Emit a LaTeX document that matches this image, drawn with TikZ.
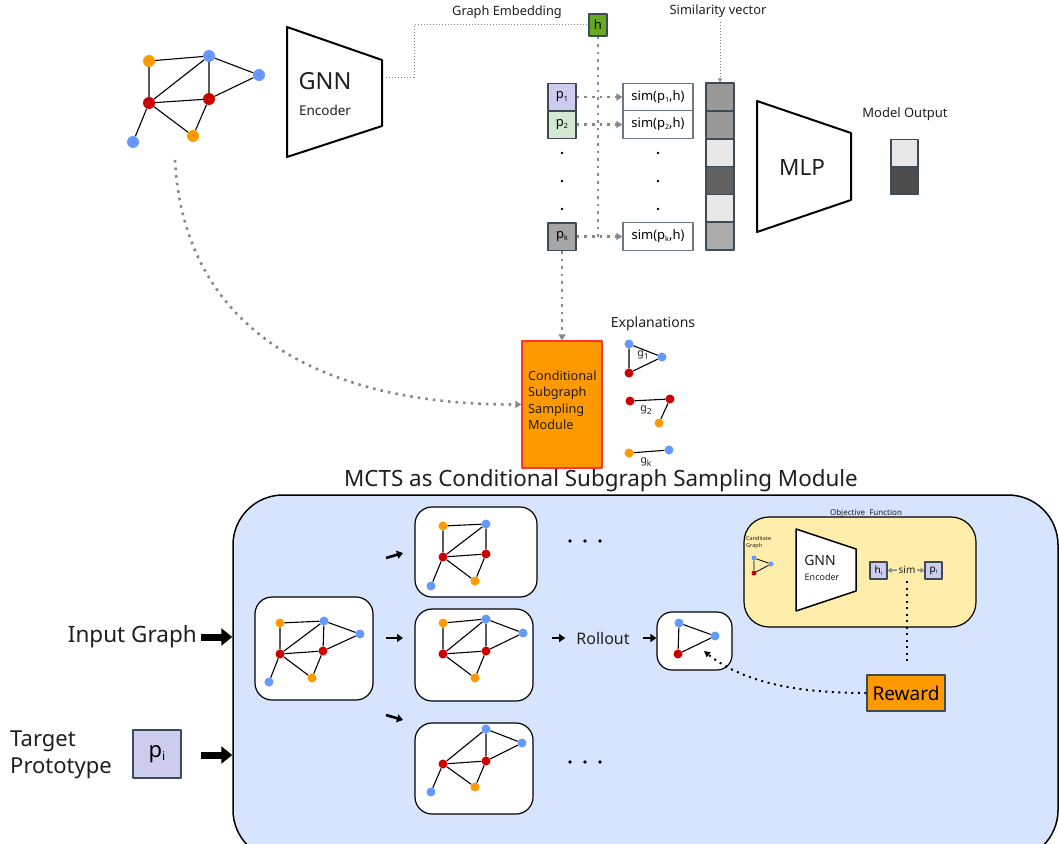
\documentclass[tikz,border=0pt]{standalone}
\usepackage{fontspec}
\setmainfont{Noto Sans}
\usetikzlibrary{arrows.meta,calc}
\definecolor{nblue}{HTML}{6699FF}
\definecolor{norange}{HTML}{FF9900}
\definecolor{nred}{HTML}{CC0000}
\definecolor{bgblue}{HTML}{D6E4FD}
\definecolor{objyellow}{HTML}{FFEDAB}
\definecolor{lav}{HTML}{CCCCEE}
\definecolor{mint}{HTML}{D5E8D4}
\definecolor{hgreen}{HTML}{66AA22}
\definecolor{bord}{HTML}{3D4B57}
\definecolor{dgray}{HTML}{888888}
\newcommand{\mysub}[1]{\raisebox{-0.3ex}{\scalebox{0.55}{#1}}}
\newcommand{\gsub}[1]{\raisebox{-0.55ex}{\scalebox{0.8}{#1}}}
\newcommand{\myfs}[1]{\fontsize{#1}{#1}\selectfont}
\tikzset{
 gn/.style={circle, inner sep=0pt, minimum size=#1, font=\fontsize{3.5}{4}\selectfont, text=black!55},
 bnode/.style={gn=#1, fill=nblue}, bnode/.default=12pt,
 rnode/.style={gn=#1, fill=nred}, rnode/.default=12pt,
 onode/.style={gn=#1, fill=norange}, onode/.default=12pt,
 ge/.style={line width=1.1pt},
 txt/.style={inner sep=0pt, text=black!88},
 gbox/.style={draw, line width=1.2pt, fill=white, rounded corners=17pt, inner sep=0pt},
 proto/.style={draw=bord, line width=1.5pt, minimum width=28pt, minimum height=27.5pt, inner sep=0pt, font=\myfs{13}},
 simbox/.style={draw=bord!75, line width=1.2pt, fill=white, minimum width=70pt, minimum height=27.5pt, inner sep=0pt, font=\myfs{13}},
 vcell/.style={draw=bord, line width=1.5pt, minimum width=28pt, minimum height=27.8pt, inner sep=0pt},
 gdot/.style={draw=dgray, line width=2.6pt, dash pattern=on 2.6pt off 5pt},
 garrow/.style={gdot, -{Triangle[length=6pt,width=7pt]}},
 bigarrow/.style={line width=7pt, -{Triangle[length=11pt,width=17pt]}},
 sarrow/.style={line width=2.6pt, -{Triangle[length=6pt,width=8pt]}},
 bdot/.style={draw=black, line width=2pt, dash pattern=on 2pt off 4.5pt},
}
\begin{document}
\begin{tikzpicture}[x=1pt,y=-1pt,line join=round]
\useasboundingbox (0,0) rectangle (1059,843);
\clip (0,0) rectangle (1059,843);

% ---------- big MCTS box
\node[draw, line width=1.5pt, fill=bgblue, rounded corners=50pt, minimum width=825pt, minimum height=365pt, inner sep=0pt] (big) at (645.5,677.5) {};
\node[txt, font=\myfs{22.4}] (title) at (601,481) {MCTS as Conditional Subgraph Sampling Module};

% ---------- top input graph
\node[onode] (a1) at (149,61) {1};
\node[bnode] (a2) at (209,56) {2};
\node[bnode] (a5) at (259,75) {5};
\node[rnode] (a3) at (149,103) {3};
\node[rnode] (a4) at (209,99) {4};
\node[onode] (a7) at (193,136) {7};
\node[bnode] (a6) at (133,142) {6};
\draw[ge] (a1)--(a2) (a1)--(a3) (a2)--(a3) (a2)--(a4) (a2)--(a5) (a5)--(a4) (a3)--(a4) (a3)--(a7) (a4)--(a7) (a3)--(a6);

% ---------- GNN encoder
\draw[line width=2pt] (287,27) -- (382,60) -- (382,126) -- (287,157) -- cycle;
\node[txt, font=\myfs{23.5}] (gnn) at (325,81) {GNN};
\node[txt, font=\myfs{13.5}] (enc) at (325,110) {Encoder};
\coordinate (encout) at (386,77);

% ---------- graph embedding
\node[draw=bord, fill=hgreen, line width=1.2pt, minimum width=18pt, minimum height=22pt, inner sep=0pt, font=\myfs{13}] (h) at (598,25) {h};
\node[txt, font=\myfs{12.8}] (gelab) at (507,12) {Graph Embedding};
\draw[dgray, line width=1pt, dotted] (encout) -- (414,77) -- (414,25) -- (h.west);
\coordinate (hv) at (598,240);
\draw[gdot, line width=2.2pt] (h.south) -- (hv);

% ---------- prototypes and similarities
\node[proto, fill=lav] (p1) at (562,97) {p\mysub{1}};
\node[proto, fill=mint] (p2) at (562,124.5) {p\mysub{2}};
\node[proto, fill=black!35] (pk) at (562,236.5) {p\mysub{k}};
\node[simbox] (s1) at (658,97) {sim(p\mysub{1},h)};
\node[simbox] (s2) at (658,124.5) {sim(p\mysub{2},h)};
\node[simbox] (sk) at (658,236.5) {sim(p\mysub{k},h)};
\draw[garrow] (p1.east) -- (s1.west);
\draw[garrow] (p2.east) -- (s2.west);
\draw[garrow] (pk.east) -- (sk.west);
\foreach \y in {153,181,209}{
  \fill (562,\y) circle (1.3pt);
  \fill (658,\y) circle (1.3pt);
}

% ---------- similarity vector
\foreach \i/\c in {0/black!40,1/black!40,2/black!9,3/black!62,4/black!9,5/black!33}{
  \node[vcell, fill=\c] (v\i) at (720,{97+27.83*\i}) {};
}
\node[txt, font=\myfs{12.8}] (svlab) at (718,11) {Similarity vector};
\draw[dgray, line width=1pt, dotted, -{Triangle[length=4pt,width=4pt]}] (v0.north |- svlab.south) ++(0,4) -- (v0.north);

% ---------- MLP
\draw[line width=2pt] (757,101) -- (851,133) -- (851,200) -- (757,232) -- cycle;
\node[txt, font=\myfs{22.5}] (mlp) at (802,167) {MLP};

% ---------- model output
\node[txt, font=\myfs{13}] (molab) at (905,114) {Model Output};
\node[vcell, minimum height=27.5pt, minimum width=27pt, fill=black!9] (o1) at (904.5,153) {};
\node[vcell, minimum height=27.5pt, minimum width=27pt, fill=black!70] (o2) at (904.5,180.5) {};

% ---------- conditional module
\node[draw=red!80, fill=norange, line width=1.2pt, minimum width=80pt, minimum height=127pt, inner sep=0pt] (csm) at (562,404.5) {};
\node[txt, font=\fontsize{12.7}{16.5}\selectfont, align=left, anchor=west] (csmtxt) at (528,400) {Conditional\\Subgraph\\Sampling\\Module};
\draw[garrow] (pk.south) -- (csm.north);
\coordinate (gstart) at (175,160);
\draw[garrow] (gstart) .. controls (183,315) and (300,405) .. (csm.west);

% ---------- explanations
\node[txt, font=\myfs{14}] (exlab) at (653,324) {Explanations};
\node[bnode=9pt] (e1a) at (629,344) {};
\node[bnode=9pt] (e1b) at (662,357) {};
\node[rnode=9pt] (e1c) at (629,373) {};
\draw[ge] (e1a)--(e1b) (e1b)--(e1c) (e1a)--(e1c);
\node[txt, font=\myfs{10.5}] (g1) at (643,355) {g\gsub{1}};
\node[rnode=9pt] (e2a) at (630,401) {};
\node[rnode=9pt] (e2b) at (670,399) {};
\node[onode=9pt] (e2c) at (659,423) {};
\draw[ge] (e2a)--(e2b) (e2b)--(e2c);
\node[txt, font=\myfs{10.5}] (g2) at (646,410) {g\gsub{2}};
\node[onode=9pt] (eka) at (629,453) {};
\node[bnode=9pt] (ekb) at (669,450) {};
\draw[ge] (eka)--(ekb);
\node[txt, font=\myfs{10.5}] (gk) at (646,462) {g\gsub{k}};

% ---------- inputs
\node[txt, font=\myfs{22.5}, anchor=east] (ig) at (197,637) {Input Graph};
\draw[bigarrow] ([xshift=4pt]ig.east) -- (big.west |- ig.east);
\node[txt, font=\fontsize{22}{27}\selectfont, align=left, anchor=west] (tp) at (10,755) {Target\\Prototype};
\node[draw=bord, fill=lav, line width=1.5pt, minimum width=48pt, minimum height=48pt, inner sep=0pt, font=\myfs{22}] (pi) at (157,754) {p\mysub{i}};
\coordinate (tpa) at (201,755);
\draw[bigarrow] (tpa) -- (big.west |- tpa);

% ---------- initial graph box
\node[gbox, minimum width=118pt, minimum height=103pt] (b0) at (314,648.5) {};
\node[onode=9pt] (c1) at (280,623) {};
\node[bnode=9pt] (c2) at (324,621) {};
\node[bnode=9pt] (c5) at (360,634) {};
\node[rnode=9pt] (c3) at (280,654) {};
\node[rnode=9pt] (c4) at (323,651) {};
\node[onode=9pt] (c7) at (312,678) {};
\node[bnode=9pt] (c6) at (269,682) {};
\draw[ge] (c1)--(c2) (c1)--(c3) (c2)--(c3) (c2)--(c4) (c2)--(c5) (c5)--(c4) (c3)--(c4) (c3)--(c7) (c4)--(c7) (c3)--(c6);

% ---------- expansion arrows
\coordinate (x1a) at (386,558); \coordinate (x1b) at (403,553);
\coordinate (x2a) at (386,638); \coordinate (x2b) at (403,638);
\coordinate (x3a) at (386,715); \coordinate (x3b) at (403,720);
\draw[sarrow] (x1a) -- (x1b);
\draw[sarrow] (x2a) -- (x2b);
\draw[sarrow] (x3a) -- (x3b);

% ---------- child 1
\node[gbox, minimum width=122pt, minimum height=90pt] (b1) at (476,552) {};
\node[onode=9pt] (d1) at (443,526) {};
\node[bnode=9pt] (d2) at (486,524) {};
\node[rnode=9pt] (d3) at (443,557) {};
\node[rnode=9pt] (d4) at (486,554) {};
\node[onode=9pt] (d7) at (475,581) {};
\node[bnode=9pt] (d6) at (431,586) {};
\draw[ge] (d1)--(d2) (d1)--(d3) (d2)--(d3) (d2)--(d4) (d3)--(d4) (d3)--(d7) (d4)--(d7) (d3)--(d6);

% ---------- child 2
\node[gbox, minimum width=118pt, minimum height=92pt] (b2) at (474,655) {};
\node[onode=9pt] (f1) at (443,623) {};
\node[bnode=9pt] (f2) at (486,619) {};
\node[bnode=9pt] (f5) at (523,633) {};
\node[rnode=9pt] (f3) at (443,654) {};
\node[rnode=9pt] (f4) at (486,651) {};
\node[onode=9pt] (f7) at (475,678) {};
\draw[ge] (f1)--(f2) (f1)--(f3) (f2)--(f3) (f2)--(f4) (f2)--(f5) (f5)--(f4) (f3)--(f4) (f3)--(f7) (f4)--(f7);

% ---------- child 3
\node[gbox, minimum width=118pt, minimum height=91pt] (b3) at (474,768.5) {};
\node[bnode=9pt] (k2) at (486,729) {};
\node[bnode=9pt] (k5) at (522,743) {};
\node[rnode=9pt] (k3) at (443,764) {};
\node[rnode=9pt] (k4) at (486,761) {};
\node[onode=9pt] (k7) at (475,787) {};
\node[bnode=9pt] (k6) at (431,792) {};
\draw[ge] (k2)--(k3) (k2)--(k4) (k2)--(k5) (k5)--(k4) (k3)--(k4) (k3)--(k7) (k4)--(k7) (k3)--(k6);

% ---------- ellipses
\foreach \x in {570,585,600}{
  \fill (\x,541) circle (1.8pt);
  \fill (\x,762) circle (1.8pt);
}

% ---------- rollout
\node[txt, font=\myfs{16}] (roll) at (603,638) {Rollout};
\node[gbox, rounded corners=15pt, minimum width=75pt, minimum height=58pt] (cand) at (694.5,641) {};
\node[bnode=9pt] (q1) at (679,623) {};
\node[bnode=9pt] (q2) at (715,636) {};
\node[rnode=9pt] (q3) at (678,654) {};
\draw[ge] (q1)--(q2) (q2)--(q3) (q1)--(q3);
\draw[sarrow] ([xshift=18pt]b2.east |- roll.west) -- ([xshift=-11pt]roll.west);
\draw[sarrow] ([xshift=13pt]roll.east) -- (cand.west |- roll.east);

% ---------- objective function
\node[draw, line width=1.2pt, fill=objyellow, rounded corners=25pt, minimum width=232pt, minimum height=110pt, inner sep=0pt] (obj) at (860,572) {};
\node[txt, font=\myfs{8}] (objlab) at (866,513) {Objective\ \ Function};
\node[txt, font=\fontsize{5.5}{7}\selectfont, align=left, anchor=north west] (cglab) at (746,536) {Canditate\\Graph};
\node[bnode=5pt] (m1) at (754,558) {};
\node[bnode=5pt] (m2) at (771,564) {};
\node[rnode=5pt] (m3) at (754,573) {};
\draw[line width=0.8pt] (m1)--(m2) (m2)--(m3) (m1)--(m3);
\draw[line width=1.5pt, fill=white] (796,529) -- (856,549) -- (856,591) -- (796,611) -- cycle;
\node[txt, font=\myfs{14}] (ognn) at (820,560) {GNN};
\node[txt, font=\myfs{9}] (oenc) at (822,577) {Encoder};
\node[draw=bord, fill=lav, line width=1.2pt, minimum width=17pt, minimum height=17pt, inner sep=0pt, font=\myfs{10}] (hi) at (878.5,570.5) {h\mysub{i}};
\node[draw=bord, fill=lav, line width=1.2pt, minimum width=17pt, minimum height=17pt, inner sep=0pt, font=\myfs{10}] (pio) at (933.5,570.5) {p\mysub{i}};
\node[txt, font=\myfs{10}, inner sep=1.5pt] (simo) at (907,570) {sim};
\draw[dgray, line width=1.5pt, -{Triangle[length=4pt,width=5pt]}] (simo.west) -- (hi.east);
\draw[dgray, line width=1.5pt, -{Triangle[length=4pt,width=5pt]}] (simo.east) -- (pio.west);

% ---------- reward
\node[draw=bord, fill=norange, line width=1.5pt, minimum width=78pt, minimum height=36pt, inner sep=0pt, font=\myfs{19}] (reward) at (906,693) {Reward};
\draw[bdot] (simo.south) ++(0,6) -- ($(reward.north -| simo.south)+(0,-10)$);
\coordinate (candtip) at (704,651);
\draw[bdot, -{Triangle[length=6pt,width=6pt]}] (reward.west) .. controls (790,693) and (740,680) .. (candtip);
\end{tikzpicture}
\end{document}
